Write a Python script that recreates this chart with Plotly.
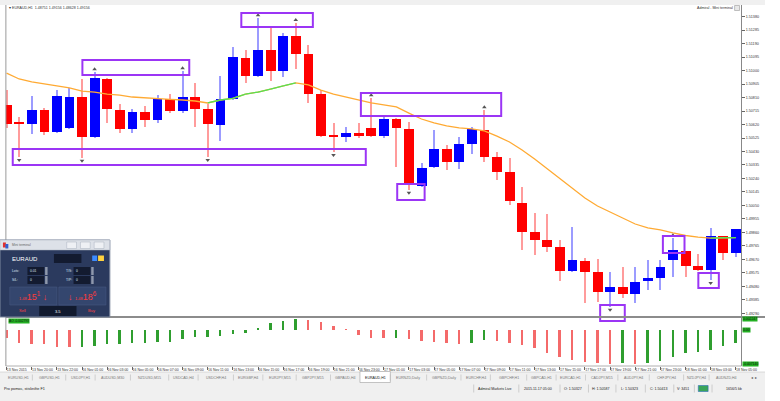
import plotly.graph_objects as go

# ---------------- data (EURAUD, H1) ----------------
opens = [1.50758, 1.50634, 1.50624, 1.50722, 1.50567, 1.50596, 1.50814, 1.50532, 1.50941, 1.50722,
         1.50589, 1.50708, 1.50652, 1.50800, 1.50715, 1.50814, 1.50730, 1.50617, 1.50800, 1.51089,
         1.50962, 1.51145, 1.50997, 1.51244, 1.51117, 1.50835, 1.50543, 1.50532, 1.50560, 1.50596,
         1.50539, 1.50659, 1.50589, 1.50187, 1.50321, 1.50448, 1.50356, 1.50483, 1.50582, 1.50391,
         1.50286, 1.50067, 1.49863, 1.49806, 1.49757, 1.49588, 1.49658, 1.49581, 1.49440, 1.49475,
         1.49426, 1.49517, 1.49538, 1.49665, 1.49729, 1.49623, 1.49595, 1.49834, 1.49715]
highs = [1.50863, 1.50673, 1.50821, 1.50737, 1.50863, 1.50878, 1.50941, 1.50990, 1.50948, 1.50765,
         1.50730, 1.50751, 1.50828, 1.50835, 1.50997, 1.50913, 1.50765, 1.50962, 1.51167, 1.51145,
         1.51371, 1.51300, 1.51265, 1.51336, 1.51181, 1.50863, 1.50631, 1.50603, 1.50631, 1.50807,
         1.50673, 1.50666, 1.50638, 1.50349, 1.50582, 1.50476, 1.50532, 1.50603, 1.50722, 1.50426,
         1.50384, 1.50180, 1.49997, 1.49990, 1.49806, 1.49898, 1.49679, 1.49672, 1.49581, 1.49616,
         1.49616, 1.49665, 1.49665, 1.49820, 1.49729, 1.49708, 1.49891, 1.49834, 1.49884]
lows = [1.50596, 1.50391, 1.50553, 1.50546, 1.50560, 1.50589, 1.50384, 1.50525, 1.50631, 1.50560,
        1.50560, 1.50603, 1.50631, 1.50701, 1.50701, 1.50603, 1.50391, 1.50504, 1.50793, 1.50913,
        1.50955, 1.50927, 1.50955, 1.51011, 1.50772, 1.50532, 1.50426, 1.50497, 1.50525, 1.50532,
        1.50525, 1.50321, 1.50159, 1.50180, 1.50314, 1.50300, 1.50307, 1.50412, 1.50356, 1.50229,
        1.50053, 1.49736, 1.49701, 1.49722, 1.49517, 1.49581, 1.49362, 1.49369, 1.49334, 1.49397,
        1.49362, 1.49454, 1.49454, 1.49546, 1.49546, 1.49588, 1.49524, 1.49665, 1.49686]
closes = [1.50624, 1.50627, 1.50722, 1.50567, 1.50821, 1.50814, 1.50532, 1.50948, 1.50730, 1.50589,
          1.50708, 1.50652, 1.50800, 1.50715, 1.50814, 1.50730, 1.50624, 1.50800, 1.51096, 1.50962,
          1.51145, 1.50997, 1.51244, 1.51117, 1.50835, 1.50539, 1.50536, 1.50560, 1.50539, 1.50539,
          1.50659, 1.50596, 1.50201, 1.50314, 1.50448, 1.50356, 1.50483, 1.50589, 1.50391, 1.50286,
          1.50081, 1.49863, 1.49806, 1.49757, 1.49588, 1.49665, 1.49581, 1.49440, 1.49475, 1.49426,
          1.49510, 1.49538, 1.49616, 1.49736, 1.49623, 1.49595, 1.49834, 1.49715, 1.49884]
ma_values = [1.50983, 1.50941, 1.50920, 1.50906, 1.50892, 1.50878, 1.50856, 1.50849, 1.50835, 1.50828,
             1.50814, 1.50807, 1.50800, 1.50797, 1.50793, 1.50786, 1.50772, 1.50793, 1.50804, 1.50835,
             1.50849, 1.50870, 1.50892, 1.50913, 1.50899, 1.50863, 1.50835, 1.50814, 1.50793, 1.50772,
             1.50758, 1.50744, 1.50701, 1.50659, 1.50631, 1.50610, 1.50596, 1.50589, 1.50575, 1.50539,
             1.50497, 1.50441, 1.50377, 1.50307, 1.50236, 1.50166, 1.50102, 1.50046, 1.50004, 1.49961,
             1.49919, 1.49891, 1.49877, 1.49856, 1.49838, 1.49827, 1.49820, 1.49822, 1.49823]
ao_values = [-0.001743, -0.002793, -0.002940, -0.003003, -0.003507, -0.003633, -0.003507, -0.003360,
             -0.003003, -0.002940, -0.002793, -0.002667, -0.002583, -0.002457, -0.001953, -0.001533,
             -0.001407, -0.001260, -0.000840, -0.000567, 0.000357, 0.001407, 0.001890, 0.002247,
             0.002163, 0.001617, 0.000840, 0.000147, -0.001050, -0.001617, -0.001743, -0.001617,
             -0.001890, -0.002247, -0.002583, -0.002793, -0.002940, -0.002667, -0.002100, -0.002310,
             -0.002793, -0.003150, -0.003843, -0.004767, -0.005607, -0.006300, -0.006657, -0.006867,
             -0.007140, -0.006993, -0.007140, -0.006867, -0.006510, -0.005607, -0.004767, -0.004557,
             -0.004200, -0.003360, -0.002793]
fractal_up_idx = [7, 14, 20, 23, 29, 38, 53]
fractal_dn_idx = [1, 6, 16, 26, 32, 48, 56]
price_tick_labels = ["1.51380", "1.51285", "1.51190", "1.51095", "1.51000", "1.50905", "1.50810",
                     "1.50715", "1.50620", "1.50525", "1.50430", "1.50335", "1.50240", "1.50145",
                     "1.50050", "1.49955", "1.49860", "1.49765", "1.49670", "1.49575", "1.49480",
                     "1.49385", "1.49290"]
time_tick_idx = list(range(0, 59, 2))
time_tick_labels = ["13 Nov 2015", "13 Nov 20:00", "13 Nov 22:00",
                    "16 Nov 01:00", "16 Nov 03:00", "16 Nov 05:00", "16 Nov 07:00", "16 Nov 09:00",
                    "16 Nov 11:00", "16 Nov 13:00", "16 Nov 15:00", "16 Nov 17:00", "16 Nov 19:00",
                    "16 Nov 21:00", "16 Nov 23:00",
                    "17 Nov 01:00", "17 Nov 03:00", "17 Nov 05:00", "17 Nov 07:00", "17 Nov 09:00",
                    "17 Nov 11:00", "17 Nov 13:00", "17 Nov 15:00", "17 Nov 17:00", "17 Nov 19:00",
                    "17 Nov 21:00", "17 Nov 23:00",
                    "18 Nov 01:00", "18 Nov 03:00", "18 Nov 05:00"]

# ---------------- styling ----------------
W, H = 780, 401
FONT = "Liberation Sans"
BULL, BEAR = "#0000ff", "#ff0000"
BULL_W, BEAR_W = "#9c9cff", "#ff9c9c"
PURPLE = "#9b35f5"


def px(x):
    return x / W


def py(y):
    return 1 - y / H


n = len(opens)
idx = list(range(n))
bull = [closes[i] >= opens[i] for i in idx]

fig = go.Figure()

# wicks
for is_bull, col in ((True, BULL_W), (False, BEAR_W)):
    sel = [i for i in idx if bull[i] == is_bull]
    fig.add_trace(go.Bar(x=sel, base=[lows[i] for i in sel],
                         y=[highs[i] - lows[i] for i in sel], width=0.09,
                         marker=dict(color=col, line=dict(width=0)), xaxis="x", yaxis="y"))
# bodies
for is_bull, col in ((True, BULL), (False, BEAR)):
    sel = [i for i in idx if bull[i] == is_bull]
    fig.add_trace(go.Bar(x=sel, base=[min(opens[i], closes[i]) for i in sel],
                         y=[max(abs(closes[i] - opens[i]), 0.00006) for i in sel], width=0.78,
                         marker=dict(color=col, line=dict(width=0)), xaxis="x", yaxis="y"))

# moving average: orange, green where rising
fig.add_trace(go.Scatter(x=idx, y=ma_values, mode="lines",
                         line=dict(color="#ffaa33", width=1.3), xaxis="x", yaxis="y"))
gx, gy = [], []
for i in range(1, n):
    if ma_values[i] > ma_values[i - 1]:
        gx += [i - 1, i, None]
        gy += [ma_values[i - 1], ma_values[i], None]
fig.add_trace(go.Scatter(x=gx, y=gy, mode="lines", line=dict(color="#55e055", width=1.3),
                         xaxis="x", yaxis="y"))

# fractals
fig.add_trace(go.Scatter(x=fractal_up_idx, y=[highs[i] + 0.0002 for i in fractal_up_idx],
                         mode="markers", marker=dict(symbol="triangle-up", size=4, color="#555"),
                         xaxis="x", yaxis="y"))
fig.add_trace(go.Scatter(x=fractal_dn_idx, y=[lows[i] - 0.0002 for i in fractal_dn_idx],
                         mode="markers", marker=dict(symbol="triangle-down", size=4, color="#555"),
                         xaxis="x", yaxis="y"))

# oscillator histogram
ao_colors = []
for i in idx:
    rising = i > 0 and ao_values[i] > ao_values[i - 1]
    ao_colors.append("#2f9e2f" if rising else "#f46a6a")
fig.add_trace(go.Bar(x=idx, y=ao_values, width=0.15, marker=dict(color=ao_colors, line=dict(width=0)),
                     xaxis="x", yaxis="y2"))

shapes = []
ann = []


def rect(x0, y0, x1, y1, fill, line=None, lw=0):
    shapes.append(dict(type="rect", xref="paper", yref="paper", x0=px(x0), x1=px(x1),
                       y0=py(y1), y1=py(y0), fillcolor=fill,
                       line=dict(color=line or fill, width=lw), layer="above"))


def hline(x0, x1, y, color, lw=1):
    shapes.append(dict(type="line", xref="paper", yref="paper", x0=px(x0), x1=px(x1),
                       y0=py(y), y1=py(y), line=dict(color=color, width=lw), layer="above"))


def vline(x, y0, y1, color, lw=1):
    shapes.append(dict(type="line", xref="paper", yref="paper", x0=px(x), x1=px(x),
                       y0=py(y0), y1=py(y1), line=dict(color=color, width=lw), layer="above"))


def text(x, y, s, size=4, color="#222", anchor="left", bg=None):
    d = dict(xref="paper", yref="paper", x=px(x), y=py(y), text=s, showarrow=False,
             font=dict(size=size, color=color, family=FONT), xanchor=anchor, yanchor="middle",
             borderpad=0)
    if bg:
        d["bgcolor"] = bg
    ann.append(d)


# purple highlight boxes (data coordinates)
boxes = [(6.03, 14.53, 1.50969, 1.51075), (18.67, 24.36, 1.51307, 1.51406),
         (0.49, 28.57, 1.50335, 1.50448), (28.18, 39.34, 1.50680, 1.50842),
         (31.07, 33.25, 1.50088, 1.50201), (52.2, 53.92, 1.49715, 1.49834),
         (55.02, 56.65, 1.49468, 1.49574)]
for x0, x1, y0, y1 in boxes:
    shapes.append(dict(type="rect", xref="x", yref="y", x0=x0, x1=x1, y0=y0, y1=y1,
                       line=dict(color=PURPLE, width=2), fillcolor="rgba(0,0,0,0)", layer="above"))
shapes.append(dict(type="rect", xref="x", yref="paper", x0=47.21, x1=49.17, y0=py(321), y1=py(305),
                   line=dict(color=PURPLE, width=2), fillcolor="rgba(0,0,0,0)", layer="above"))

# window chrome
rect(0, 0, 780, 5, "#f0f0f0")
vline(6, 5, 366, "#9a9a9a", 1)
hline(6, 780, 317, "#8c8c8c", 2)
hline(6, 756, 366, "#b0b0b0", 1)
text(8, 8.5, "▾ EURAUD,H1  1.48751 1.49156 1.48628 1.49156", 3.6, "#333")
text(748, 8, "Admiral - Mini terminal", 3.6, "#333", "right")
rect(749, 5.5, 754, 10.5, "#e8e8e8", "#888", 0.5)

# indicator labels
text(8, 320.5, "AO -0.002793", 3.2, "#111", bg="#22b022")
for v, s in ((max(ao_values), "%.6f" % max(ao_values)), (0, "0.00"),
             (min(ao_values), "%.6f" % min(ao_values))):
    ann.append(dict(xref="paper", yref="y2", x=px(757), y=v, text=s, showarrow=False,
                    xanchor="left", yanchor="middle", bgcolor="#22b022", borderpad=0,
                    font=dict(size=3.4, color="#111", family=FONT)))

# mini terminal panel
rect(0, 240, 112, 317, "#2b3a5e", "#7d889e", 1)
rect(0, 240, 112, 250, "#dde1e8", "#aab1bf", 0.5)
rect(3, 242.5, 6, 247.5, "#e03030")
rect(5.5, 244, 8.5, 248.5, "#3060d0")
text(11, 245, "Mini terminal", 3.3, "#666")
for bx in (68, 82, 96):
    rect(bx, 242, bx + 10, 248.5, "#eef0f4", "#a9b0bf", 0.5)
text(11, 258.5, "EURAUD", 6, "#ffffff")
rect(55, 254, 83, 263, "#131b30")
rect(94, 255.5, 99, 261, "#3d8bff")
rect(100, 255.5, 106, 261, "#ffd23f")
for lx, ly, lab, val in ((11, 271, "Lots:", "0.01"), (11, 280, "S/L:", "0"),
                         (66, 271, "T/S:", "0"), (66, 280, "T/P:", "0")):
    text(lx, ly, lab, 3.3, "#dfe6f5")
    bx = lx + 17 if lx < 40 else lx + 9
    rect(bx, ly - 4, bx + 17, ly + 4, "#131b30")
    text(bx + 1.5, ly, val, 3.3, "#dfe6f5")
    rect(bx + 18, ly - 4, bx + 20.5, ly + 4, "#8e98ac")
rect(10, 287, 58, 305, "#34466e", "#4b5c84", 0.5)
rect(60, 287, 108, 305, "#34466e", "#4b5c84", 0.5)
text(34, 296, "<span style='font-size:4px'>1.48</span>15<sup>1</sup> ↓", 9, "#ff3b3b", "center")
text(84, 296, "↓ <span style='font-size:4px'>1.48</span>18<sup>6</sup>", 9, "#ff3b3b", "center")
text(23, 310.5, "Sell", 4, "#ff4444", "center")
text(93, 310.5, "Buy", 4, "#ff4444", "center")
rect(40, 306, 78, 316, "#111a2e")
text(59, 311, "3.5", 4, "#ffffff", "center")

# tab strip
rect(0, 372, 780, 383, "#f0f0f0")
hline(0, 780, 372, "#c8c8c8", 0.6)
tab_names = ["EURUSD,H1", "GBPUSD,H1", "USDJPY,H1", "AUDUSD,M30", "NZDUSD,M15", "USDCAD,H4",
             "USDCHF,H4", "EURGBP,H4", "EURJPY,M15", "GBPJPY,M15", "GBPAUD,H4", "EURAUD,H1",
             "EURNZD,Daily", "GBPNZD,Daily", "EURCHF,H4", "GBPCHF,H1", "GBPCAD,H1", "EURCAD,H1",
             "CADJPY,M15", "AUDJPY,H4", "CHFJPY,H4", "NZDJPY,H4", "AUDNZD,H4"]
tab_edges = [5, 33, 67, 97, 133, 172, 202, 238, 268, 302, 337, 367, 398, 435, 470, 500, 537, 567,
             597, 630, 662, 697, 723, 758]
for k, name in enumerate(tab_names):
    a, b = tab_edges[k], tab_edges[k + 1]
    if name == "EURAUD,H1":
        rect(a, 371.5, b, 382.5, "#ffffff", "#a0a0a0", 0.6)
        text((a + b) / 2, 377.5, name, 3.6, "#111", "center")
    else:
        text((a + b) / 2, 377.5, name, 3.6, "#777", "center")
        if k > 0:
            vline(a, 374.5, 380.5, "#b8b8b8", 0.6)
text(769, 377.5, "◂  ▸", 3.8, "#555", "center")

# status bar
rect(0, 383, 780, 401, "#f0f0f0")
text(3, 388.5, "Pro pomoc, stiskněte F1", 3.8, "#222")
status = [(483, 526, "Admiral Markets Live"), (529, 569, "2015.11.17 05:00"), (571, 598, "O: 1.50327"),
          (600, 626, "H: 1.50587"), (628, 656, "L: 1.50323"), (658, 686, "C: 1.50413"),
          (687, 706, "V: 3451")]
for a, b, s in status:
    vline(a, 384.5, 392.5, "#b5b5b5", 0.6)
    text((a + b) / 2, 388.5, s, 3.6, "#222", "center")
vline(708, 384.5, 392.5, "#b5b5b5", 0.6)
rect(712, 385.5, 722, 391.5, "#3aa55a", "#2d6fb8", 0.6)
vline(726, 384.5, 392.5, "#b5b5b5", 0.6)
text(748, 388.5, "1656/5 kb", 3.6, "#222", "center")

fig.update_layout(
    width=W, height=H, margin=dict(l=0, r=0, t=0, b=0), autosize=False,
    paper_bgcolor="#ffffff", plot_bgcolor="#ffffff",
    showlegend=False, hovermode=False, barmode="overlay", bargap=0,
    font=dict(family=FONT, size=4, color="#222"),
    shapes=shapes, annotations=ann,
    xaxis=dict(domain=[px(6), px(756)], range=[-0.055, 58.45], anchor="y2",
               tickvals=time_tick_idx, ticktext=time_tick_labels, tickangle=0,
               ticks="outside", ticklen=2.5, tickwidth=0.6, tickcolor="#666",
               ticklabelposition="outside right", tickfont=dict(size=3.5, color="#333", family=FONT),
               showgrid=False, zeroline=False, showline=False, fixedrange=True),
    yaxis=dict(domain=[py(316), py(5)], range=[1.492707, 1.514625], anchor="x", side="right",
               tickvals=[float(v) for v in price_tick_labels], ticktext=price_tick_labels,
               ticks="outside", ticklen=2.5, tickwidth=0.6, tickcolor="#666",
               tickfont=dict(size=3.7, color="#333", family=FONT),
               showline=True, linecolor="#888", linewidth=1, showgrid=False, zeroline=False),
    yaxis2=dict(domain=[py(366), py(318)], range=[-0.00756, 0.00252], anchor="x", side="right",
                showticklabels=False, ticks="", showline=True, linecolor="#888", linewidth=1,
                showgrid=False, zeroline=False),
)

fig.write_html(
    "out.html",
    config={"displayModeBar": False, "responsive": False},
    post_script=("document.documentElement.style.margin='0';document.documentElement.style.padding='0';"
                 "document.documentElement.style.overflow='hidden';"
                 "document.body.style.margin='0';document.body.style.padding='0';"
                 "document.body.style.overflow='hidden';"),
)
